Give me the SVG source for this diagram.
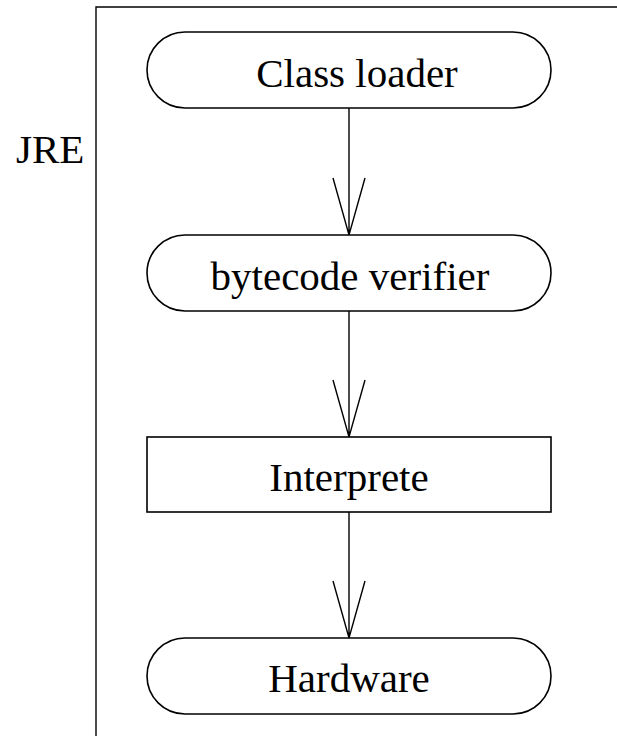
<svg xmlns="http://www.w3.org/2000/svg" width="617" height="736" viewBox="0 0 617 736">
  <style>
    .shape { fill: #ffffff; stroke: #000000; stroke-width: 1.6; }
    .edge { fill: none; stroke: #000000; stroke-width: 1.4; }
    .label { font-family: "Liberation Serif", "Times New Roman", serif; font-size: 41px; fill: #000000; text-anchor: middle; }
    .side { font-family: "Liberation Serif", "Times New Roman", serif; font-size: 41px; fill: #000000; }
  </style>
  <rect width="617" height="736" fill="#ffffff"/>

  <!-- swimlane frame -->
  <g id="frame">
    <path class="edge" d="M 96 740 L 96 7 L 620 7" stroke-width="1.6"/>
    <text class="side" x="16" y="163">JRE</text>
  </g>

  <!-- connectors -->
  <g id="connectors">
    <path class="edge" d="M 349 108 L 349 235 M 333 178 L 349 235 L 365 178"/>
    <path class="edge" d="M 349 311 L 349 437 M 333 380 L 349 437 L 365 380"/>
    <path class="edge" d="M 349 512 L 349 638 M 333 581 L 349 638 L 365 581"/>
  </g>

  <g id="class-loader">
    <rect class="shape" x="147" y="32" width="404" height="76" rx="38" ry="38"/>
    <text class="label" x="357" y="87">Class loader</text>
  </g>

  <g id="bytecode-verifier">
    <rect class="shape" x="147" y="235" width="404" height="76" rx="38" ry="38"/>
    <text class="label" x="350" y="290">bytecode verifier</text>
  </g>

  <g id="interprete">
    <rect class="shape" x="147" y="437" width="404" height="75"/>
    <text class="label" x="349" y="491">Interprete</text>
  </g>

  <g id="hardware">
    <rect class="shape" x="147" y="638" width="404" height="76" rx="38" ry="38"/>
    <text class="label" x="349" y="692">Hardware</text>
  </g>
</svg>
